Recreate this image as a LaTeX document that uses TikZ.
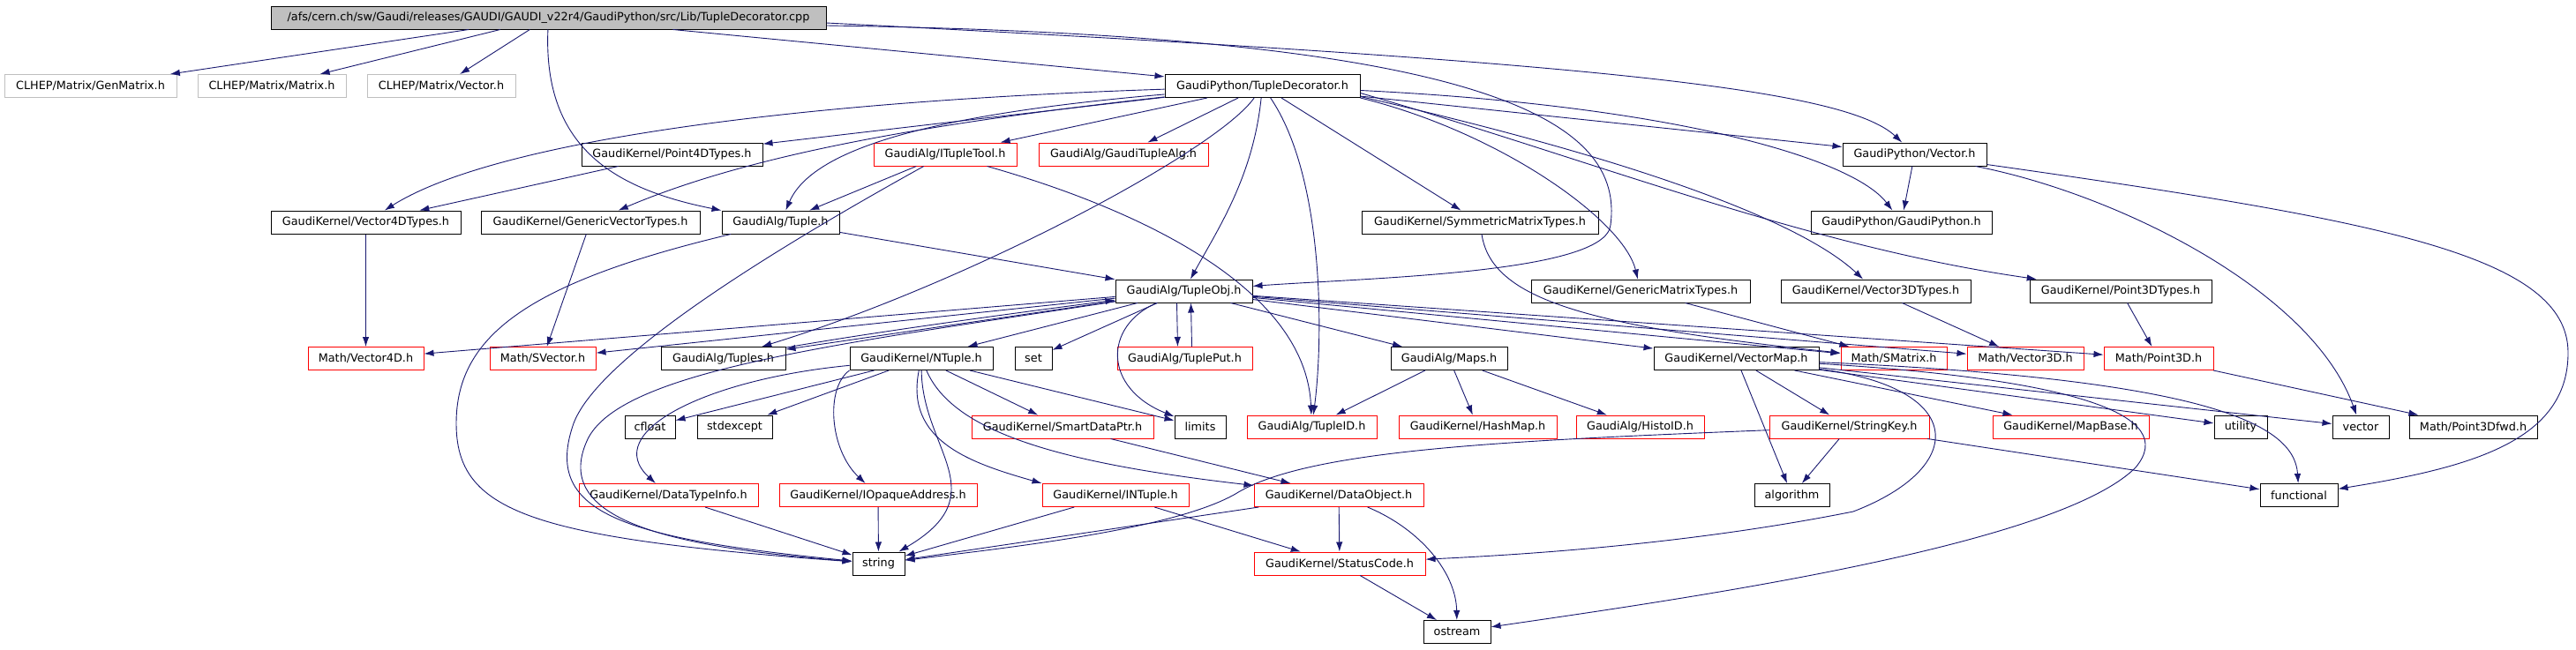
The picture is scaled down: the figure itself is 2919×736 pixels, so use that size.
\documentclass[tikz,border=0pt]{standalone}
\usepackage{fontspec}
\setmainfont{DejaVu Sans}
\usetikzlibrary{arrows.meta}
\definecolor{edgeblue}{HTML}{191970}
\definecolor{grey75}{HTML}{BFBFBF}

\begin{document}
\begin{tikzpicture}[x=1pt,y=-1pt,
  file/.style={draw=black,line width=1pt,minimum height=26pt,inner sep=2pt,font=\fontsize{12.8}{15}\selectfont},
  redfile/.style={file,draw=red},
  extfile/.style={file,draw=grey75},
  edge/.style={edgeblue,line width=0.9pt,-{Latex[length=11pt,width=7.5pt]}}]

\fill[white] (0,0) rectangle (2919,736);
\useasboundingbox (0,0) rectangle (2919,736);

\node[file,fill=grey75,minimum width=629pt] (1) at (621.5,20){/afs/cern.ch/sw/Gaudi/releases/GAUDI/GAUDI\_v22r4/GaudiPython/src/Lib/TupleDecorator.cpp};
\node[extfile,minimum width=195pt] (2) at (102.5,97.5){CLHEP/Matrix/GenMatrix.h};
\node[extfile,minimum width=168pt] (3) at (308,97.5){CLHEP/Matrix/Matrix.h};
\node[extfile,minimum width=168pt] (4) at (500,97.5){CLHEP/Matrix/Vector.h};
\node[file,minimum width=221pt] (5) at (1430.5,97.5){GaudiPython/TupleDecorator.h};
\node[file,minimum width=205pt] (6) at (761.5,175){GaudiKernel/Point4DTypes.h};
\node[redfile,minimum width=162pt] (7) at (1071,175){GaudiAlg/ITupleTool.h};
\node[redfile,minimum width=192pt] (8) at (1273,175){GaudiAlg/GaudiTupleAlg.h};
\node[file,minimum width=163pt] (9) at (2169.5,175){GaudiPython/Vector.h};
\node[file,minimum width=215pt] (10) at (414.5,252){GaudiKernel/Vector4DTypes.h};
\node[file,minimum width=248pt] (11) at (669,252){GaudiKernel/GenericVectorTypes.h};
\node[file,minimum width=133pt] (12) at (884.5,252){GaudiAlg/Tuple.h};
\node[file,minimum width=268pt] (13) at (1677,252){GaudiKernel/SymmetricMatrixTypes.h};
\node[file,minimum width=205pt] (14) at (2154.5,252){GaudiPython/GaudiPython.h};
\node[file,minimum width=155pt] (15) at (1341.5,330){GaudiAlg/TupleObj.h};
\node[file,minimum width=248pt] (16) at (1859,330){GaudiKernel/GenericMatrixTypes.h};
\node[file,minimum width=215pt] (17) at (2125.5,330){GaudiKernel/Vector3DTypes.h};
\node[file,minimum width=206pt] (18) at (2403,330){GaudiKernel/Point3DTypes.h};
\node[redfile,minimum width=131pt] (19) at (414.5,406.5){Math/Vector4D.h};
\node[redfile,minimum width=120pt] (20) at (615,406.5){Math/SVector.h};
\node[file,minimum width=141pt] (21) at (819.5,406.5){GaudiAlg/Tuples.h};
\node[file,minimum width=162pt] (22) at (1044,406.5){GaudiKernel/NTuple.h};
\node[file,minimum width=42pt] (23) at (1171,406.5){set};
\node[redfile,minimum width=153pt] (24) at (1342.5,406.5){GaudiAlg/TuplePut.h};
\node[file,minimum width=132pt] (25) at (1642,406.5){GaudiAlg/Maps.h};
\node[file,minimum width=187pt] (26) at (1967.5,406.5){GaudiKernel/VectorMap.h};
\node[redfile,minimum width=120pt] (27) at (2146,406.5){Math/SMatrix.h};
\node[redfile,minimum width=132pt] (28) at (2295,406.5){Math/Vector3D.h};
\node[redfile,minimum width=124pt] (29) at (2446,406.5){Math/Point3D.h};
\node[file,minimum width=57pt] (30) at (736.5,484){cfloat};
\node[file,minimum width=85pt] (31) at (832.5,484){stdexcept};
\node[redfile,minimum width=206pt] (32) at (1204,484){GaudiKernel/SmartDataPtr.h};
\node[file,minimum width=58pt] (33) at (1360,484){limits};
\node[redfile,minimum width=147pt] (34) at (1486.5,484){GaudiAlg/TupleID.h};
\node[redfile,minimum width=179pt] (35) at (1674.5,484){GaudiKernel/HashMap.h};
\node[redfile,minimum width=145pt] (36) at (1858.5,484){GaudiAlg/HistoID.h};
\node[redfile,minimum width=181pt] (37) at (2095.5,484){GaudiKernel/StringKey.h};
\node[redfile,minimum width=177pt] (38) at (2346.5,484){GaudiKernel/MapBase.h};
\node[file,minimum width=60pt] (39) at (2539,484){utility};
\node[file,minimum width=64pt] (40) at (2675,484){vector};
\node[file,minimum width=145pt] (41) at (2802.5,484){Math/Point3Dfwd.h};
\node[redfile,minimum width=203pt] (42) at (757.5,561.5){GaudiKernel/DataTypeInfo.h};
\node[redfile,minimum width=224pt] (43) at (995,561.5){GaudiKernel/IOpaqueAddress.h};
\node[redfile,minimum width=166pt] (44) at (1264,561.5){GaudiKernel/INTuple.h};
\node[redfile,minimum width=192pt] (45) at (1517,561.5){GaudiKernel/DataObject.h};
\node[file,minimum width=85pt] (46) at (2030.5,561.5){algorithm};
\node[file,minimum width=88pt] (47) at (2605,561.5){functional};
\node[file,minimum width=59pt] (48) at (995.5,639){string};
\node[redfile,minimum width=194pt] (49) at (1518,639){GaudiKernel/StatusCode.h};
\node[file,minimum width=76pt] (50) at (1651,716.5){ostream};

\draw[edge] (1) -- (2);
\draw[edge] (1) -- (3);
\draw[edge] (1) -- (4);
\draw[edge] (1) -- (5);
\draw[edge] (1) .. controls (615,170) and (700,215) .. (12);
\draw[edge] ([yshift=-6pt]1.east) .. controls (1800,70) and (2090,100) .. (9);
\draw[edge] ([yshift=-9pt]1.east) .. controls (1700,40) and (1840,140) .. (1825,255) .. controls (1820,310) and (1550,315) .. (15);

\draw[edge] (5) .. controls (900,115) and (560,160) .. (10);
\draw[edge] (5) -- (6);
\draw[edge] (5) .. controls (1050,140) and (850,175) .. (11);
\draw[edge] (5) .. controls (1050,130) and (920,170) .. (12);
\draw[edge] (5) -- (7);
\draw[edge] (5) -- (8);
\draw[edge] (5) .. controls (1420,200) and (1380,260) .. (15);
\draw[edge] (5) .. controls (1380,170) and (1100,320) .. (21);
\draw[edge] (5) .. controls (1500,200) and (1500,380) .. (34);
\draw[edge] (5) -- (13);
\draw[edge] (5.south east) .. controls (1700,150) and (1840,250) .. (16);
\draw[edge] ([yshift=-12pt]5.east) .. controls (1850,180) and (2040,250) .. (17);
\draw[edge] ([yshift=-8pt]5.east) .. controls (1800,180) and (2050,280) .. (18);
\draw[edge] ([yshift=-5pt]5.east) .. controls (1900,120) and (2100,180) .. (14);
\draw[edge] (5) -- (9);

\draw[edge] (7) -- (12);
\draw[edge] (7) .. controls (1300,240) and (1480,330) .. (34);
\draw[edge] (7) .. controls (900,270) and (680,400) .. (650,480) .. controls (615,580) and (700,610) .. (48);
\draw[edge] (6) -- (10);
\draw[edge] (10) -- (19);
\draw[edge] (11) -- (20);
\draw[edge] (12) -- (15);
\draw[edge] (12) .. controls (600,320) and (517,380) .. (517,480) .. controls (517,580) and (600,610) .. (48);
\draw[edge] (9) -- (14);
\draw[edge] (9) .. controls (2400,220) and (2620,330) .. (40);
\draw[edge] (9) .. controls (2700,250) and (2910,290) .. (2910,400) .. controls (2910,500) and (2800,530) .. (47);
\draw[edge] (13) .. controls (1690,340) and (1800,370) .. (27);
\draw[edge] (16) -- (27);
\draw[edge] (17) -- (28);
\draw[edge] (18) -- (29);

\draw[edge] (15) -- (19);
\draw[edge] (15) -- (20);
\draw[edge] (15) -- (21);
\draw[edge] (21) .. controls (1000,375) and (1150,355) .. (15);
\draw[edge] (15) -- (22);
\draw[edge] (15) -- (23);
\draw[edge] ([xshift=-8pt]15.south) -- ([xshift=-8pt]24.north);
\draw[edge] ([xshift=8pt]24.north) -- ([xshift=8pt]15.south);
\draw[edge] (15) .. controls (1250,370) and (1250,440) .. (33);
\draw[edge] (15) -- (25);
\draw[edge] (15) -- (26);
\draw[edge] (15) -- (27);
\draw[edge] (15) -- (28);
\draw[edge] (15) -- (29);
\draw[edge] (15) .. controls (950,390) and (700,420) .. (665,500) .. controls (625,590) and (760,620) .. (48);

\draw[edge] (22) -- (30);
\draw[edge] (22) -- (31);
\draw[edge] (22) -- (32);
\draw[edge] (22) -- (33);
\draw[edge] (22) .. controls (800,430) and (680,490) .. (42);
\draw[edge] (22.south west) .. controls (935,440) and (940,510) .. (43);
\draw[edge] (22) .. controls (1025,500) and (1100,525) .. (44.north west);
\draw[edge] (22) .. controls (1080,490) and (1200,525) .. (45);
\draw[edge] (22) .. controls (1045,510) and (1130,560) .. (48);

\draw[edge] (25) -- (34);
\draw[edge] (25) -- (35);
\draw[edge] (25) -- (36);
\draw[edge] (26) -- (37);
\draw[edge] (26) -- (46);
\draw[edge] (26) -- (38);
\draw[edge] (26) -- (39);
\draw[edge] (26) -- (40);
\draw[edge] (26) .. controls (2500,430) and (2600,480) .. (47);
\draw[edge] (26) .. controls (2230,440) and (2230,530) .. (2100,580) .. controls (1900,620) and (1700,630) .. (49);
\draw[edge] (26) .. controls (2350,430) and (2470,470) .. (2420,530) .. controls (2330,620) and (1900,680) .. (50);
\draw[edge] (29) -- (41);
\draw[edge] (37) -- (46);
\draw[edge] (37) -- (47);
\draw[edge] (37) .. controls (1700,500) and (1480,510) .. (1400,560) .. controls (1330,600) and (1150,620) .. (48);

\draw[edge] (32) -- (45);
\draw[edge] (42) -- (48);
\draw[edge] (43) -- (48);
\draw[edge] (44) -- (48);
\draw[edge] (44) -- (49);
\draw[edge] (45) -- (48);
\draw[edge] (45) -- (49);
\draw[edge] (45) .. controls (1610,600) and (1650,650) .. (50);
\draw[edge] (49) -- (50);

\end{tikzpicture}
\end{document}
